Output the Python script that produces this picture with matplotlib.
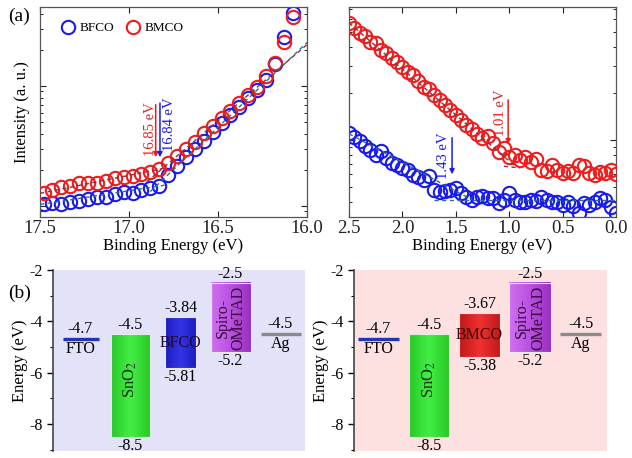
import numpy as np
import matplotlib
matplotlib.use("Agg")
import matplotlib.pyplot as plt
from matplotlib.patches import Rectangle
from matplotlib.ticker import LogLocator, NullFormatter, FormatStrFormatter
from matplotlib.colors import LinearSegmentedColormap

plt.rcParams['font.family'] = ['Liberation Serif', 'DejaVu Serif']
plt.rcParams['mathtext.fontset'] = 'stix'
plt.rcParams['axes.unicode_minus'] = False

# ---------------- (a) left: secondary-electron cutoff ----------------
cutoff_be = [17.48, 17.43, 17.38, 17.33, 17.28, 17.23, 17.18, 17.13, 17.08, 17.03,
             16.98, 16.93, 16.88, 16.83, 16.78, 16.73, 16.68, 16.63, 16.58, 16.53,
             16.48, 16.43, 16.38, 16.33, 16.28, 16.23, 16.18, 16.13, 16.08]
bfco_cutoff_log = [0.017, 0.022, 0.017, 0.036, 0.042, 0.058, 0.078, 0.072, 0.097, 0.119,
                   0.106, 0.133, 0.147, 0.167, 0.258, 0.333, 0.411, 0.475, 0.544, 0.617,
                   0.689, 0.756, 0.828, 0.903, 0.967, 1.050, 1.180, 1.411, 1.606]
bmco_cutoff_log = [0.111, 0.133, 0.156, 0.167, 0.194, 0.189, 0.194, 0.211, 0.231, 0.244,
                   0.250, 0.267, 0.283, 0.306, 0.356, 0.417, 0.472, 0.536, 0.606, 0.667,
                   0.731, 0.792, 0.856, 0.925, 0.989, 1.083, 1.194, 1.369, 1.578]
# linear fits (log intensity) : (x_start, y_start, x_end, y_end)
bfco_cutoff_fits = [(17.50, 0.012, 16.80, 0.173), (16.88, 0.120, 16.00, 1.362)]
bmco_cutoff_fits = [(17.50, 0.105, 16.80, 0.315), (16.90, 0.201, 16.00, 1.345)]
bfco_cutoff_value, bmco_cutoff_value = 16.84, 16.85

# ---------------- (a) right: valence band edge ----------------
vb_be = [2.50, 2.45, 2.40, 2.35, 2.30, 2.25, 2.20, 2.15, 2.10, 2.05,
         2.00, 1.95, 1.90, 1.85, 1.80, 1.75, 1.70, 1.65, 1.60, 1.55,
         1.50, 1.45, 1.40, 1.35, 1.30, 1.25, 1.20, 1.15, 1.10, 1.05,
         1.00, 0.95, 0.90, 0.85, 0.80, 0.75, 0.70, 0.65, 0.60, 0.55,
         0.50, 0.45, 0.40, 0.35, 0.30, 0.25, 0.20, 0.15, 0.10, 0.05, 0.00]
bmco_vb_log = [0.755, 0.723, 0.690, 0.671, 0.632, 0.626, 0.581, 0.561, 0.529, 0.503,
               0.471, 0.439, 0.419, 0.381, 0.342, 0.329, 0.290, 0.258, 0.226, 0.194,
               0.161, 0.129, 0.097, 0.071, 0.039, 0.013, 0.026, -0.019, -0.077, -0.052,
               -0.110, -0.097, -0.129, -0.110, -0.142, -0.123, -0.194, -0.200, -0.161, -0.194,
               -0.213, -0.200, -0.213, -0.161, -0.168, -0.213, -0.226, -0.206, -0.213, -0.194,
               -0.219]
bfco_vb_log = [0.045, 0.019, -0.006, -0.039, -0.065, -0.097, -0.071, -0.116, -0.148, -0.161,
               -0.181, -0.194, -0.226, -0.239, -0.258, -0.232, -0.323, -0.335, -0.329, -0.323,
               -0.310, -0.342, -0.368, -0.387, -0.368, -0.361, -0.374, -0.374, -0.406, -0.387,
               -0.342, -0.387, -0.400, -0.400, -0.387, -0.394, -0.368, -0.387, -0.400, -0.400,
               -0.419, -0.400, -0.426, -0.471, -0.406, -0.419, -0.400, -0.374, -0.387, -0.432,
               -0.471]
bfco_vb_fits = [(2.50, 0.040, 1.35, -0.385), (1.70, -0.390, 0.00, -0.390)]
bmco_vb_fits = [(2.50, 0.755, 0.95, -0.165), (1.05, -0.170, 0.90, -0.180)]
bfco_vb_value, bmco_vb_value = 1.43, 1.01

# ---------------- (b) energy level diagrams ----------------
layers_left = ['FTO', 'SnO$_2$', 'BFCO', 'Spiro-\nOMeTAD', 'Ag']
layers_right = ['FTO', 'SnO$_2$', 'BMCO', 'Spiro-\nOMeTAD', 'Ag']
top_left = [-4.7, -4.5, -3.84, -2.5, -4.5]
bottom_left = [-4.7, -8.5, -5.81, -5.2, -4.5]
top_right = [-4.7, -4.5, -3.67, -2.5, -4.5]
bottom_right = [-4.7, -8.5, -5.38, -5.2, -4.5]
top_labels_left = ['-4.7', '-4.5', '-3.84', '-2.5', '-4.5']
bottom_labels_left = ['', '-8.5', '-5.81', '-5.2', '']
top_labels_right = ['-4.7', '-4.5', '-3.67', '-2.5', '-4.5']
bottom_labels_right = ['', '-8.5', '-5.38', '-5.2', '']

BLUE = '#1a1aee'
RED = '#ee1c1c'
FIT_B = '#2c6f8c'
FIT_R = '#8a3040'

W, H = 632, 458
fig = plt.figure(figsize=(W / 100, H / 100), dpi=100)


def frac(x0, y0, x1, y1):
    return [x0 / W, 1 - y1 / H, (x1 - x0) / W, (y1 - y0) / H]


ax1 = fig.add_axes(frac(40, 7, 307, 217))
ax2 = fig.add_axes(frac(349, 7, 616, 217))
ax3 = fig.add_axes(frac(53, 270, 305, 451))
ax4 = fig.add_axes(frac(354, 270, 607, 451))

mk = dict(marker='o', ls='none', mfc='none', ms=9.6, mew=1.5)


def style_top(ax, xlim, ylim_log, xticks):
    ax.set_yscale('log')
    ax.set_xlim(*xlim)
    ax.set_ylim(10 ** ylim_log[0], 10 ** ylim_log[1])
    ax.set_xticks(xticks)
    ax.xaxis.set_major_formatter(FormatStrFormatter('%.1f'))
    ax.yaxis.set_major_locator(LogLocator(base=10, numticks=10))
    ax.yaxis.set_minor_locator(LogLocator(base=10, subs=np.arange(2, 10), numticks=10))
    ax.yaxis.set_major_formatter(NullFormatter())
    ax.yaxis.set_minor_formatter(NullFormatter())
    ax.tick_params(which='both', direction='in', top=True, right=True, labelsize=13.5,
                   colors='#222222')
    ax.tick_params(axis='x', pad=2)
    ax.tick_params(which='major', length=4, width=0.8)
    ax.tick_params(which='minor', length=2.2, width=0.7)
    for s in ax.spines.values():
        s.set_color('#555555')
        s.set_linewidth(0.9)
    ax.set_xlabel('Binding Energy (eV)', fontsize=12, labelpad=1)


def draw_fits(ax, fits, color):
    for x0, y0, x1, y1 in fits:
        ax.plot([x0, x1], [10 ** y0, 10 ** y1], ls=(0, (3, 2.5)), color=color, lw=1.0, zorder=4)


# ---- ax1
b1, = ax1.plot(cutoff_be, 10 ** np.array(bfco_cutoff_log), mec=BLUE, label='BFCO', zorder=2, **mk)
r1, = ax1.plot(cutoff_be, 10 ** np.array(bmco_cutoff_log), mec=RED, label='BMCO', zorder=3, **mk)
draw_fits(ax1, bfco_cutoff_fits, FIT_B)
draw_fits(ax1, bmco_cutoff_fits, FIT_R)
style_top(ax1, (17.5, 16.0), (-0.092, 1.658), [17.5, 17.0, 16.5, 16.0])
ax1.set_ylabel('Intensity (a. u.)', fontsize=12, labelpad=4)
ax1.annotate('', xy=(bmco_cutoff_value, 10 ** 0.383), xytext=(bmco_cutoff_value, 10 ** 0.867),
             arrowprops=dict(arrowstyle='-|>', color=RED, lw=1.1, mutation_scale=7))
ax1.annotate('', xy=(16.826, 10 ** 0.383), xytext=(16.826, 10 ** 0.880),
             arrowprops=dict(arrowstyle='-|>', color=BLUE, lw=1.1, mutation_scale=7))
ax1.text(16.878, 10 ** 0.64, f'{bmco_cutoff_value:.2f} eV', color=RED, rotation=90,
         ha='center', va='center', fontsize=10.5)
ax1.text(16.775, 10 ** 0.68, f'{bfco_cutoff_value:.2f} eV', color=BLUE, rotation=90,
         ha='center', va='center', fontsize=10.5)
leg = ax1.legend(handles=[b1, r1], loc='upper left', bbox_to_anchor=(0.03, 0.985), ncol=2,
                 frameon=False, fontsize=9.5, handletextpad=0.3, columnspacing=0.8,
                 handlelength=1.2, markerscale=1.0)

# ---- ax2
ax2.plot(vb_be, 10 ** np.array(bfco_vb_log), mec=BLUE, zorder=2, **mk)
ax2.plot(vb_be, 10 ** np.array(bmco_vb_log), mec=RED, zorder=3, **mk)
draw_fits(ax2, bfco_vb_fits, FIT_B)
draw_fits(ax2, bmco_vb_fits, FIT_R)
style_top(ax2, (2.5, 0.0), (-0.497, 0.858), [2.5, 2.0, 1.5, 1.0, 0.5, 0.0])
ax2.annotate('', xy=(1.535, 10 ** -0.239), xytext=(1.535, 10 ** 0.032),
             arrowprops=dict(arrowstyle='-|>', color=BLUE, lw=1.1, mutation_scale=7))
ax2.annotate('', xy=(bmco_vb_value, 10 ** -0.045), xytext=(bmco_vb_value, 10 ** 0.277),
             arrowprops=dict(arrowstyle='-|>', color=RED, lw=1.1, mutation_scale=7))
ax2.text(1.615, 10 ** -0.10, f'{bfco_vb_value:.2f} eV', color=BLUE, rotation=90,
         ha='center', va='center', fontsize=10.5)
ax2.text(1.085, 10 ** 0.175, f'{bmco_vb_value:.2f} eV', color=RED, rotation=90,
         ha='center', va='center', fontsize=10.5)

fig.text(8 / W, 1 - 16 / H, '(a)', fontsize=14, va='center', ha='left')
fig.text(8 / W, 1 - 293 / H, '(b)', fontsize=14, va='center', ha='left')


# ---- energy diagrams
def gradient_box(ax, x0, x1, y0, y1, c_edge, c_mid, c_edge2=None):
    cmap = LinearSegmentedColormap.from_list('g', [c_edge, c_mid, c_edge2 or c_edge])
    grad = np.linspace(0, 1, 64).reshape(1, -1)
    ax.imshow(grad, cmap=cmap, extent=(x0, x1, y0, y1), aspect='auto', zorder=2,
              interpolation='bicubic')
    ax.add_patch(Rectangle((x0, y0), x1 - x0, y1 - y0, fill=False, ec='#e8e8e8', lw=0.8, zorder=3))


def energy_panel(ax, names, tops, bottoms, tlabels, blabels, bg, mat_colors, widths, xlim):
    ax.set_facecolor(bg)
    ax.set_xlim(*xlim)
    ax.set_ylim(-9.05, -2.0)
    for s in ['top', 'right', 'bottom']:
        ax.spines[s].set_visible(False)
    ax.spines['left'].set_color('#444444')
    ax.spines['left'].set_linewidth(1.2)
    ax.set_xticks([])
    ax.set_yticks([-2, -4, -6, -8])
    ax.set_yticks([-3, -5, -7, -9], minor=True)
    ax.tick_params(axis='y', which='major', direction='out', length=4, labelsize=11.5, width=1)
    ax.tick_params(axis='y', which='minor', direction='out', length=2, width=0.8)
    ax.set_ylabel('Energy (eV)', fontsize=12, labelpad=1)
    for i, name in enumerate(names):
        w = widths[i]
        x0, x1 = i - w / 2, i + w / 2
        t, b = tops[i], bottoms[i]
        if t == b:  # electrode work function line
            ax.plot([x0, x1], [t, t], color=mat_colors[i], lw=2.4, solid_capstyle='butt', zorder=3)
            ax.text(i, t + 0.08, tlabels[i], ha='center', va='bottom', fontsize=11.5)
            ax.text(i, t - 0.08, name, ha='center', va='top', fontsize=11.5)
        else:
            ce, cm, ce2 = mat_colors[i]
            gradient_box(ax, x0, x1, b, t, ce, cm, ce2)
            ax.text(i, t + 0.05, tlabels[i], ha='center', va='bottom', fontsize=11.5)
            ax.text(i, b - 0.05, blabels[i], ha='center', va='top', fontsize=11.5)
            if name.startswith('SnO'):
                ax.text(i, -6.25, name, rotation=90, ha='center', va='center', fontsize=12,
                        color='#103010', zorder=4)
            elif name.startswith('Spiro'):
                ax.text(i, (t + b) / 2, name, rotation=90, ha='center', va='center',
                        fontsize=11.5, color='#3a0a40', linespacing=1.0, zorder=4)
            else:
                ax.text(i, (t + b) / 2, name, ha='center', va='center', fontsize=11.5,
                        color='#200a30' if name == 'BFCO' else '#3a0808', zorder=4)


green = ('#28c828', '#44ee44', '#28c828')
spiro = ('#d070f0', '#b850e0', '#9a30c0')
colors_left = ['#2233bb', green, ('#1c1cc0', '#3434e8', '#1c1cc0'), spiro,
               '#8a8a8a']
colors_right = ['#2233bb', green, ('#c01818', '#f03030', '#c01818'), spiro,
                '#8a8a8a']

energy_panel(ax3, layers_left, top_left, bottom_left, top_labels_left, bottom_labels_left,
             '#e2e2f8', colors_left, [0.72, 0.78, 0.62, 0.8, 0.8], (-0.55, 4.49))
energy_panel(ax4, layers_right, top_right, bottom_right, top_labels_right, bottom_labels_right,
             '#fde0e0', colors_right, [0.8, 0.78, 0.82, 0.82, 0.8], (-0.48, 4.52))

fig.savefig('out.png', dpi=100)
